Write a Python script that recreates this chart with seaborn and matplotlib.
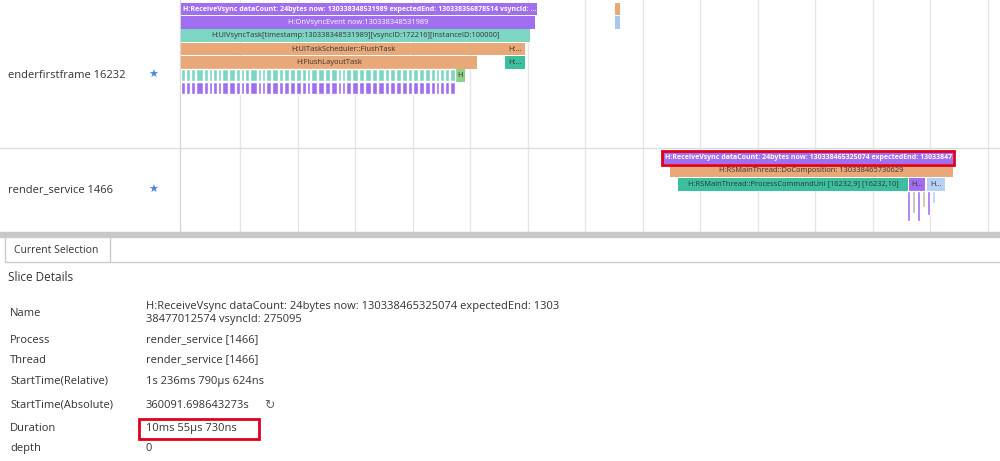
import matplotlib.pyplot as plt
import seaborn as sns
from matplotlib.patches import Rectangle

sns.set_theme(style="white")
plt.rcParams['font.family'] = ['Open Sans', 'DejaVu Sans']

# slices: label, start, end, depth, color -- in pixel-ish timeline units
top_labels = ["H:ReceiveVsync dataCount: 24bytes now: 130338348531989 expectedEnd: 130338356878514 vsyncId: ...",
              "H:OnVsyncEvent now:130338348531989",
              "H:UIVsyncTask[timestamp:130338348531989][vsyncID:172216][instanceID:100000]",
              "H:UITaskScheduler::FlushTask", "H:...",
              "H:FlushLayoutTask", "H:...", "H", "", ""]
top_start = [181, 181, 181, 181, 505, 181, 505, 455, 615, 615]
top_end = [537, 535, 530, 505, 525, 477, 525, 465, 620, 620]
top_depth = [0, 1, 2, 3, 3, 4, 4, 5, 0, 1]
top_color = ["#a26ef0", "#a26ef0", "#7dd6c4", "#e8a878", "#e8a878", "#e8a878", "#3cbf9f", "#8fd08a", "#e8a878", "#a8c8f0"]

rs_labels = ["H:ReceiveVsync dataCount: 24bytes now: 130338465325074 expectedEnd: 13033847...",
             "H:RSMainThread::DoComposition: 130338465730629",
             "H:RSMainThread::ProcessCommandUni [16232,9] [16232,10]", "H...", "H..."]
rs_start = [663, 670, 678, 909, 927]
rs_end = [953, 953, 908, 925, 945]
rs_depth = [0, 1, 2, 2, 2]
rs_color = ["#a26ef0", "#e8a878", "#3cbf9f", "#a26ef0", "#b8d0f4"]

# striped deep rows (dense short slices)
stripe_x = [181, 186, 191, 196, 204, 209, 213, 218, 222, 229, 236, 241, 245, 250, 258, 262, 266, 272, 279, 284,
            290, 296, 302, 307, 311, 318, 325, 331, 338, 342, 346, 352, 359, 365, 372, 378, 385, 390, 396, 402,
            408, 413, 419, 425, 431, 436, 440, 445, 450]
stripe_w = [4, 4, 4, 7, 4, 3, 4, 3, 6, 6, 4, 3, 4, 7, 3, 3, 5, 6, 4, 5, 5, 5, 4, 3, 6, 6, 5, 6, 3, 3, 5, 6,
            5, 6, 5, 6, 4, 5, 5, 5, 4, 5, 5, 5, 4, 3, 4, 4, 5]
rs_stripe_x = [908, 913, 918, 923, 928, 933]
rs_stripe_h = [30, 22, 30, 16, 24, 12]

grid_x = [240, 298, 355, 413, 470, 528, 585, 643, 700, 758, 815, 873, 930, 988]

details_keys = ["Name", "Process", "Thread", "StartTime(Relative)", "StartTime(Absolute)", "Duration", "depth"]
details_vals = ["H:ReceiveVsync dataCount: 24bytes now: 130338465325074 expectedEnd: 1303\n38477012574 vsyncId: 275095",
                "render_service [1466]", "render_service [1466]", "1s 236ms 790\u03bcs 624ns",
                "360091.698643273s", "10ms 55\u03bcs 730ns", "0"]
details_y = [313, 340, 360, 381, 405, 428, 448]

fig = plt.figure(figsize=(10, 4.61), dpi=100)
ax = fig.add_axes([0, 0, 1, 1])
ax.set_xlim(0, 1000)
ax.set_ylim(461, 0)
ax.axis("off")

for gx in grid_x:
    ax.plot([gx, gx], [0, 232], color="#e6e6e6", lw=1, zorder=0)
ax.plot([180, 180], [0, 232], color="#d8d8d8", lw=1, zorder=0)
ax.plot([0, 1000], [148, 148], color="#dddddd", lw=1)

row_h = 13.3
def draw(labels, starts, ends, depths, colors, y0):
    tops = [y0 + d * row_h for d in depths]
    ax.barh([t + row_h / 2 for t in tops], [e - s for s, e in zip(starts, ends)], left=starts,
            height=row_h - 0.6, color=colors, edgecolor="none", zorder=2)
    for lab, s, e, t in zip(labels, starts, ends, tops):
        if not lab:
            continue
        white = lab.startswith("H:Rec") or lab.startswith("H:OnV")
        if lab.startswith("H:Rec"):
            ax.text(s + 2, t + row_h / 2, lab, fontsize=5.0, color="white", fontweight="bold",
                    ha="left", va="center", zorder=3)
        else:
            ax.text((s + e) / 2, t + row_h / 2, lab, fontsize=5.4, color="white" if white else "#333333",
                    ha="center", va="center", zorder=3)

draw(top_labels, top_start, top_end, top_depth, top_color, 2.5)
ax.barh([75] * len(stripe_x), stripe_w, left=stripe_x, height=12, color="#7dd6c4", zorder=2)
ax.barh([88.5] * len(stripe_x), stripe_w, left=stripe_x, height=12, color="#a26ef0", zorder=2)
draw(rs_labels, rs_start, rs_end, rs_depth, rs_color, 151)
ax.bar(rs_stripe_x, rs_stripe_h, bottom=191, width=3, color=["#a26ef0", "#b8b8b8", "#a26ef0", "#c8c0a0", "#a26ef0", "#b8d0f4"], zorder=2)
ax.add_patch(Rectangle((662, 150.5), 292, 14, fill=False, edgecolor="#e0001b", lw=2, zorder=4))

ax.text(8, 75, "enderfirstframe 16232", fontsize=8, color="#333333", va="center")
ax.text(8, 190, "render_service 1466", fontsize=8, color="#333333", va="center")
for yy in [75, 190]:
    ax.text(153, yy, "\u2605", fontsize=8, color="#4a86e0", ha="center", va="center", family=["DejaVu Sans"])

# bottom panel
ax.add_patch(Rectangle((0, 232), 1000, 5, color="#c8c8c8", zorder=1))
ax.add_patch(Rectangle((5, 237), 105, 25, facecolor="white", edgecolor="#cccccc", zorder=1))
ax.plot([110, 1000], [262, 262], color="#cccccc", lw=1)
ax.text(14, 250, "Current Selection", fontsize=7.5, color="#333333", va="center")
ax.text(8, 277, "Slice Details", fontsize=8.5, color="#333333", va="center")
for k, v, y in zip(details_keys, details_vals, details_y):
    ax.text(10, y, k, fontsize=8, color="#333333", va="center")
    ax.text(146, y, v, fontsize=8, color="#333333", va="center", linespacing=1.3)
ax.text(264, 405, "\u21bb", fontsize=9, color="#666666", va="center", family=["DejaVu Sans"])
ax.add_patch(Rectangle((139, 419), 120, 20, fill=False, edgecolor="#e0001b", lw=2, zorder=4))

fig.savefig("out.png", dpi=100, facecolor="white")
